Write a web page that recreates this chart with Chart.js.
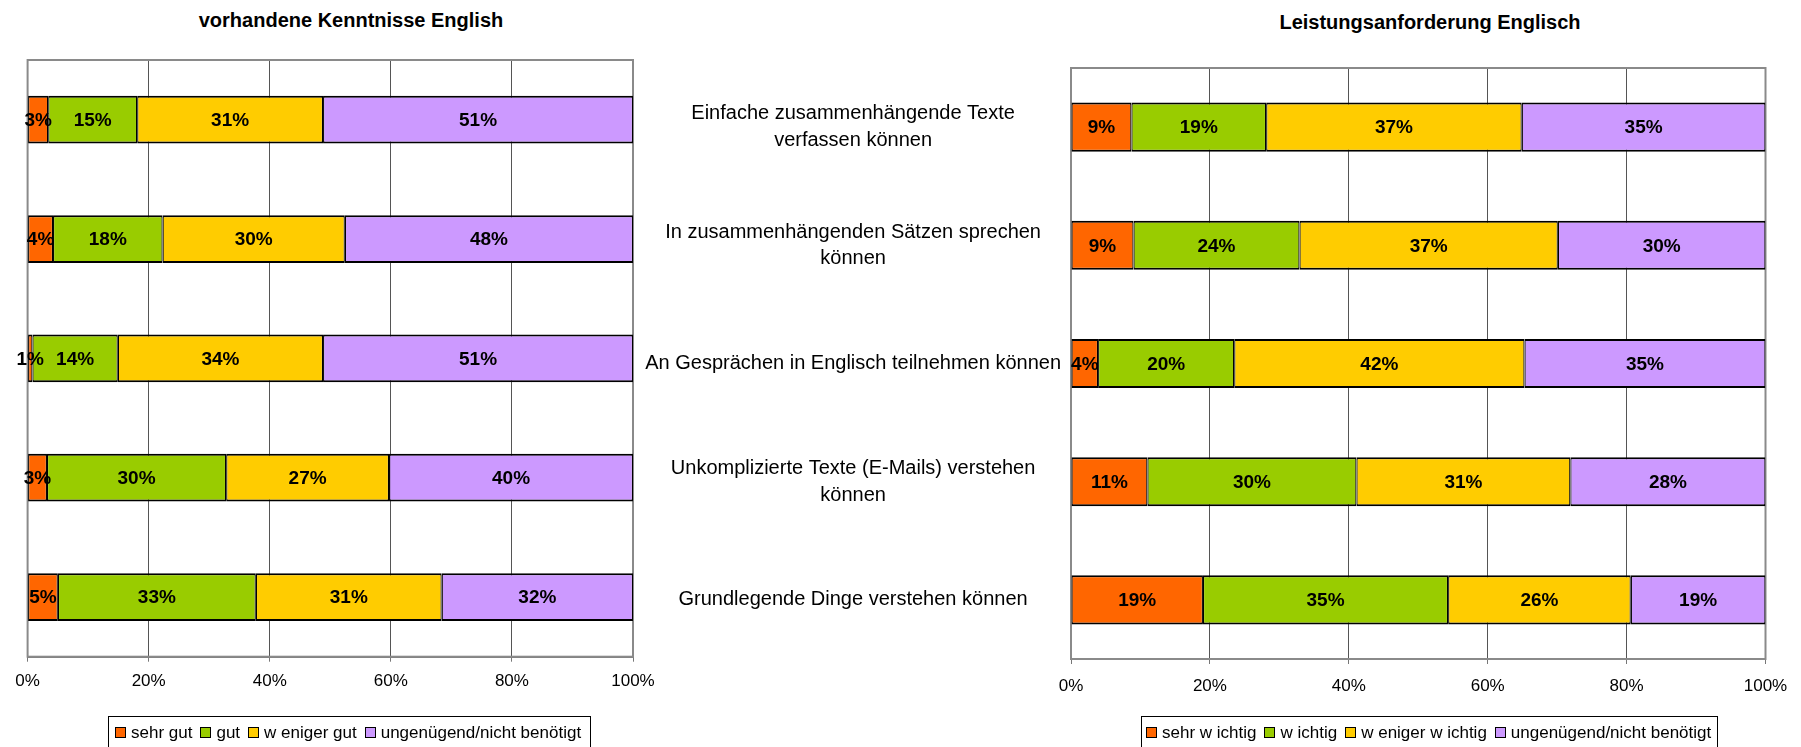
<!DOCTYPE html>
<html lang="de">
<head>
<meta charset="utf-8">
<title>Englisch: Kenntnisse und Anforderungen</title>
<script src="https://cdn.jsdelivr.net/npm/chart.js@4.4.1/dist/chart.umd.min.js"></script>
<style>
    html, body { margin: 0; padding: 0; background: #fff; overflow: hidden; }
    body { position: relative; width: 1801px; height: 747px; font-family: "Liberation Sans", Arial, sans-serif; color: #000; }
    .box { position: absolute; top: 0; height: 747px; }
    .title { position: absolute; font-weight: bold; font-size: 20px; line-height: 20px; white-space: nowrap; transform: translateX(-50%); }
    .legend { position: absolute; top: 716px; height: 33px; box-sizing: border-box; border: 1px solid #000; display: flex; align-items: center; font-size: 17px; white-space: nowrap; }
    .legend .item { display: flex; align-items: center; margin-right: 8px; }
    .legend i { display: inline-block; width: 11px; height: 11px; box-sizing: border-box; border: 1px solid #000; margin-right: 5px; }
</style>
</head>
<body>
<div class="title" style="left:351px; top:10px;">vorhandene Kenntnisse English</div>
<div class="title" style="left:1430px; top:12px;">Leistungsanforderung Englisch</div>
<div class="box" style="left:0; width:700px;"><canvas id="chartLeft"></canvas></div>
<div class="box" style="left:640px; width:1161px;"><canvas id="chartRight"></canvas></div>
<div class="legend" id="legendLeft" style="left:108px; width:483px; padding-left:6px;"></div>
<div class="legend" id="legendRight" style="left:1141px; width:577px; padding-left:4px;"></div>
<script>
var categories = [
    ['Einfache zusammenhängende Texte', 'verfassen können'],
    ['In zusammenhängenden Sätzen sprechen', 'können'],
    'An Gesprächen in Englisch teilnehmen können',
    ['Unkomplizierte Texte (E-Mails) verstehen', 'können'],
    'Grundlegende Dinge verstehen können'
];
var xTicks = [0, 20, 40, 60, 80, 100];

// vorhandene Kenntnisse (Anteile in %)
var kenntnisseLabels = ['sehr gut', 'gut', 'w eniger gut', 'ungenügend/nicht benötigt'];
var sehrGut = [3.4, 4.2, 0.8, 3.2, 5.0];
var gut = [14.7, 18.1, 14.1, 29.6, 32.7];
var wenigerGut = [30.7, 30.1, 33.9, 26.9, 30.7];
var ungenuegendK = [51.2, 47.6, 51.2, 40.3, 31.6];

// Leistungsanforderung (Anteile in %)
var anforderungLabels = ['sehr w ichtig', 'w ichtig', 'w eniger w ichtig', 'ungenügend/nicht benötigt'];
var sehrWichtig = [8.7, 9.0, 3.9, 11.0, 19.0];
var wichtig = [19.4, 23.9, 19.6, 30.1, 35.3];
var wenigerWichtig = [36.8, 37.2, 41.8, 30.8, 26.3];
var ungenuegendA = [35.1, 29.9, 34.7, 28.1, 19.4];

var colors = ['#FF6600', '#99CC00', '#FFCC00', '#CC99FF'];

Chart.defaults.font.family = '"Liberation Sans", Arial, sans-serif';
Chart.defaults.color = '#000';

// Rahmen um die Zeichenfläche
var frameBorder = {
    id: 'frameBorder',
    beforeDatasetsDraw: function(chart) {
        var a = chart.chartArea;
        var ctx = chart.ctx;
        ctx.save();
        ctx.strokeStyle = '#8a8a8a';
        ctx.lineWidth = 2;
        ctx.strokeRect(a.left, a.top, a.right - a.left, a.bottom - a.top);
        ctx.restore();
    }
};

// Prozentwerte in die Balken schreiben
var valueLabels = {
    id: 'valueLabels',
    afterDatasetsDraw: function(chart) {
        var ctx = chart.ctx;
        ctx.save();
        ctx.font = 'bold 19px "Liberation Sans", Arial, sans-serif';
        ctx.fillStyle = '#000';
        ctx.textAlign = 'center';
        ctx.textBaseline = 'middle';
        chart.data.datasets.forEach(function(ds, i) {
            chart.getDatasetMeta(i).data.forEach(function(bar, j) {
                var p = bar.getCenterPoint();
                ctx.fillText(Math.round(ds.data[j]) + '%', p.x, p.y + 1);
            });
        });
        ctx.restore();
    }
};

function makeDatasets(labels, series, barPct) {
    return series.map(function(values, i) {
        return {
            label: labels[i],
            data: values,
            backgroundColor: colors[i],
            borderColor: '#000',
            borderWidth: { top: 2, bottom: 2, left: 1.2, right: 1.2 },
            borderSkipped: false,
            barPercentage: barPct,
            categoryPercentage: 1
        };
    });
}

function xScale(tickPad) {
    return {
        stacked: true,
        min: 0,
        max: 100,
        afterBuildTicks: function(scale) {
            scale.ticks = xTicks.map(function(v) { return { value: v }; });
        },
        afterFit: function(scale) { scale.height = 40; },
        ticks: {
            callback: function(v) { return v + '%'; },
            color: '#000',
            font: { size: 17 },
            padding: tickPad,
            maxRotation: 0
        },
        grid: { color: '#555', lineWidth: 1, tickLength: 5, tickColor: '#777' },
        border: { color: '#777', width: 2 }
    };
}

function buildLegend(id, labels) {
    var el = document.getElementById(id);
    labels.forEach(function(text, i) {
        el.innerHTML += '<span class="item"><i style="background:' + colors[i] + '"></i>' + text + '</span>';
    });
}

new Chart(document.getElementById('chartLeft'), {
    type: 'bar',
    data: {
        labels: categories,
        datasets: makeDatasets(kenntnisseLabels, [sehrGut, gut, wenigerGut, ungenuegendK], 0.4)
    },
    options: {
        indexAxis: 'y',
        responsive: true,
        maintainAspectRatio: false,
        animation: false,
        layout: { padding: { left: 27.6, right: 67, top: 60, bottom: 50.3 } },
        scales: {
            x: xScale(9),
            y: { stacked: true, display: false }
        },
        plugins: { legend: { display: false }, tooltip: { enabled: false } }
    },
    plugins: [frameBorder, valueLabels]
});

new Chart(document.getElementById('chartRight'), {
    type: 'bar',
    data: {
        labels: categories,
        datasets: makeDatasets(anforderungLabels, [sehrWichtig, wichtig, wenigerWichtig, ungenuegendA], 0.415)
    },
    options: {
        indexAxis: 'y',
        responsive: true,
        maintainAspectRatio: false,
        animation: false,
        layout: { padding: { left: 0, right: 35.5, top: 68, bottom: 48 } },
        scales: {
            x: xScale(12),
            y: {
                stacked: true,
                afterFit: function(scale) { scale.width = 431; },
                ticks: { color: '#000', font: { size: 20, lineHeight: 1.33 }, crossAlign: 'center', padding: 10 },
                grid: { display: false, drawTicks: false },
                border: { display: false }
            }
        },
        plugins: { legend: { display: false }, tooltip: { enabled: false } }
    },
    plugins: [frameBorder, valueLabels]
});

buildLegend('legendLeft', kenntnisseLabels);
buildLegend('legendRight', anforderungLabels);
</script>
</body>
</html>
